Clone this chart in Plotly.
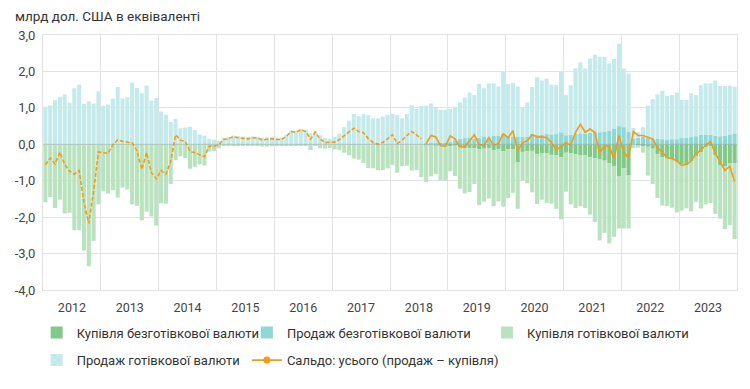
import plotly.graph_objects as go

years = [str(y) for y in range(2012, 2024)]
months = [f"{y}-{m:02d}" for y in range(2012, 2024) for m in range(1, 13)]

# Купівля безготівкової валюти, from Aug 2018
noncash_buy = [0.0] * 79 + [
    -0.02, -0.01, -0.03, -0.02, -0.03,
    -0.05, -0.03, -0.08, -0.10, -0.10, -0.10, -0.14, -0.12, -0.10, -0.16, -0.14, -0.19,
    -0.14, -0.13, -0.50, -0.21, -0.19, -0.18, -0.27, -0.24, -0.25, -0.29, -0.30, -0.36,
    -0.23, -0.25, -0.27, -0.31, -0.30, -0.36, -0.38, -0.42, -0.45, -0.52, -0.60, -0.87,
    -0.66, -0.86, 0.00, -0.02, -0.05, -0.07, -0.12, -0.28, -0.35, -0.39, -0.42, -0.48,
    -0.55, -0.57, -0.47, -0.32, -0.22, -0.08, -0.05, -0.30, -0.57, -0.60, -0.53, -0.52,
]

# Продаж безготівкової валюти
noncash_sale = [0.0] * 79 + [
    0.02, 0.03, 0.03, 0.04, 0.05,
    0.06, 0.11, 0.15, 0.17, 0.19, 0.15, 0.18, 0.22, 0.19, 0.23, 0.23, 0.29,
    0.21, 0.21, 0.20, 0.21, 0.20, 0.29, 0.27, 0.26, 0.28, 0.27, 0.28, 0.33,
    0.25, 0.26, 0.28, 0.30, 0.30, 0.32, 0.34, 0.33, 0.35, 0.38, 0.42, 0.50,
    0.47, 0.35, 0.16, 0.18, 0.20, 0.18, 0.16, 0.15, 0.14, 0.13, 0.14, 0.14,
    0.17, 0.18, 0.20, 0.22, 0.26, 0.27, 0.26, 0.23, 0.22, 0.23, 0.27, 0.30,
]

# Купівля готівкової валюти
cash_buy = [
    -1.59, -1.45, -1.75, -1.52, -1.90, -1.88, -2.36, -2.36, -2.92, -3.35, -2.65, -1.65,
    -1.29, -1.35, -1.26, -1.46, -1.19, -1.24, -1.65, -1.69, -2.09, -1.85, -1.98, -2.23,
    -1.62, -1.63, -1.09, -0.44, -0.33, -0.38, -0.67, -0.62, -0.55, -0.58, -0.20, -0.18,
    -0.11, -0.05, -0.05, -0.03, -0.04, -0.05, -0.05, -0.04, -0.04, -0.06, -0.06, -0.05,
    -0.05, -0.05, -0.04, -0.03, -0.04, -0.02, -0.05, -0.16, -0.04, -0.11, -0.12, -0.10,
    -0.14, -0.16, -0.23, -0.30, -0.39, -0.42, -0.51, -0.65, -0.66, -0.71, -0.71, -0.66,
    -0.57, -0.78, -0.60, -0.59, -0.72, -0.71, -0.90, -1.02, -0.87, -0.79, -0.97, -0.97,
    -0.69, -0.84, -1.14, -1.25, -1.21, -0.99, -1.53, -1.45, -1.39, -1.54, -1.43, -1.52,
    -1.34, -1.20, -1.27, -0.79, -0.88, -1.14, -1.37, -1.28, -1.36, -1.34, -1.47, -1.70,
    -1.07, -1.40, -1.48, -1.39, -1.45, -1.57, -1.75, -2.22, -1.98, -2.20, -1.94, -1.44,
    -1.65, -1.45, -0.10, -0.07, -0.18, -0.79, -0.97, -1.19, -1.33, -1.31, -1.32, -1.39,
    -1.27, -1.19, -1.37, -1.26, -1.54, -1.57, -1.56, -1.61, -1.47, -1.73, -1.69, -2.08,
]

# Продаж готівкової валюти
cash_sale = [
    1.03, 1.07, 1.21, 1.30, 1.37, 1.14, 1.54, 1.64, 1.11, 1.18, 1.12, 1.45,
    1.06, 1.09, 1.25, 1.57, 1.26, 1.29, 1.69, 1.55, 1.40, 1.61, 1.20, 1.27,
    0.90, 0.81, 0.61, 0.70, 0.44, 0.46, 0.48, 0.39, 0.27, 0.24, 0.15, 0.13,
    0.10, 0.18, 0.20, 0.24, 0.22, 0.21, 0.20, 0.22, 0.21, 0.18, 0.19, 0.20,
    0.18, 0.18, 0.26, 0.38, 0.37, 0.42, 0.40, 0.30, 0.37, 0.25, 0.17, 0.15,
    0.20, 0.29, 0.47, 0.65, 0.83, 0.77, 0.83, 0.80, 0.71, 0.71, 0.76, 0.81,
    0.83, 0.80, 0.71, 0.83, 1.07, 0.97, 1.05, 1.04, 1.09, 0.99, 0.91, 0.90,
    0.91, 0.91, 1.00, 1.11, 1.23, 1.20, 1.48, 1.32, 1.48, 1.44, 1.36, 1.71,
    1.45, 1.48, 1.38, 0.80, 0.95, 1.28, 1.57, 1.49, 1.52, 1.37, 1.35, 1.66,
    1.10, 1.36, 1.80, 1.95, 1.78, 2.03, 2.12, 2.07, 2.05, 1.84, 1.92, 2.26,
    1.61, 1.59, 0.29, 0.15, 0.27, 0.88, 1.08, 1.22, 1.33, 1.20, 1.21, 1.28,
    1.05, 1.04, 1.20, 1.13, 1.36, 1.40, 1.41, 1.52, 1.38, 1.37, 1.34, 1.28,
]

# Сальдо: усього (продаж – купівля); до 07.2018 лише готівкова
balance = [
    -0.56, -0.38, -0.54, -0.22, -0.55, -0.74, -0.82, -0.72, -1.60, -2.17, -1.30, -0.21,
    -0.23, -0.25, -0.01, 0.12, 0.08, 0.06, 0.04, -0.18, -0.69, -0.23, -0.78, -0.95,
    -0.72, -0.82, -0.48, 0.26, 0.11, 0.08, -0.19, -0.23, -0.28, -0.34, -0.05, -0.05,
    -0.01, 0.13, 0.15, 0.21, 0.18, 0.16, 0.15, 0.18, 0.17, 0.12, 0.13, 0.15,
    0.13, 0.13, 0.22, 0.35, 0.33, 0.40, 0.35, 0.14, 0.33, 0.14, 0.05, 0.05,
    0.06, 0.13, 0.24, 0.35, 0.44, 0.35, 0.32, 0.15, 0.05, 0.00, 0.05, 0.15,
    0.26, 0.02, 0.11, 0.24, 0.35, 0.26, 0.15, 0.02, 0.24, 0.20, -0.04, -0.05,
    0.23, 0.15, -0.07, -0.07, 0.11, 0.26, -0.01, -0.03, 0.18, -0.03, 0.02, 0.29,
    0.18, 0.37, -0.18, 0.04, 0.10, 0.27, 0.20, 0.21, 0.18, 0.05, -0.15, -0.07,
    0.05, -0.03, 0.33, 0.55, 0.33, 0.42, 0.33, -0.24, -0.03, -0.06, -0.39, 0.24,
    -0.23, -0.37, 0.35, 0.24, 0.24, 0.20, 0.15, -0.10, -0.21, -0.37, -0.39, -0.45,
    -0.58, -0.55, -0.46, -0.26, -0.17, -0.02, 0.07, -0.25, -0.50, -0.72, -0.60, -1.02,
]
cash_only_months = 79  # dashed part: Jan 2012 – Jul 2018

y_ticks = [3, 2, 1, 0, -1, -2, -3, -4]
y_tick_text = ["3,0", "2,0", "1,0", "0,0", "-1,0", "-2,0", "-3,0", "-4,0"]

C_BUY_NC = "#80c987"
C_SALE_NC = "#8fd8d5"
C_BUY_C = "#b9e2be"
C_SALE_C = "#c4eaeb"
C_LINE = "#f59b16"
FONT = "Roboto"

# The page body adds an 8px offset; the figure is laid out in figure pixels
OFF = 8
W, H = 734, 373
PL, PT, PR, PB = 43.3 - OFF, 35 - OFF, 736.7 - OFF, 293 - OFF  # plot box in figure px

x = list(range(len(months)))

fig = go.Figure()
fig.add_bar(x=x, y=noncash_buy, name="Купівля безготівкової валюти",
            marker=dict(color=C_BUY_NC, line_width=0), legend="legend", customdata=months)
fig.add_bar(x=x, y=noncash_sale, name="Продаж безготівкової валюти",
            marker=dict(color=C_SALE_NC, line_width=0), legend="legend2", customdata=months)
fig.add_bar(x=x, y=cash_buy, name="Купівля готівкової валюти",
            marker=dict(color=C_BUY_C, line_width=0), legend="legend3", customdata=months)
fig.add_bar(x=x, y=cash_sale, name="Продаж готівкової валюти",
            marker=dict(color=C_SALE_C, line_width=0), legend="legend4", customdata=months)

fig.add_scatter(x=x[:cash_only_months], y=balance[:cash_only_months], mode="lines",
                line=dict(color=C_LINE, width=1.6, dash="4px,2px"), showlegend=False)
fig.add_scatter(x=x[cash_only_months:], y=balance[cash_only_months:], mode="lines",
                line=dict(color=C_LINE, width=1.6), showlegend=False)
fig.add_scatter(x=[None], y=[None], mode="lines+markers", name="Сальдо: усього (продаж – купівля)",
                line=dict(color=C_LINE, width=1.6), marker=dict(color=C_LINE, size=7),
                legend="legend5")

grid = "#e3e3e3"
fig.update_layout(
    width=W, height=H,
    margin=dict(l=PL, r=W - PR, t=PT, b=H - PB, pad=0),
    barmode="relative", bargap=0.15,
    plot_bgcolor="white", paper_bgcolor="white",
    font=dict(family=FONT, size=13, color="#333"),
    title=dict(text="млрд дол. США в еквіваленті", x=(15 - OFF) / W, xanchor="left",
               xref="container", y=1 - (16 - OFF) / H, yanchor="middle", yref="container",
               font=dict(family=FONT, size=13.5, color="#333")),
    xaxis=dict(range=[-0.5, len(months) - 0.5], tickmode="array",
               tickvals=[5.5 + 12 * k for k in range(len(years))], ticktext=years,
               showgrid=False, zeroline=False, ticks="", ticklabelstandoff=6,
               tickfont=dict(family=FONT, size=12.5, color="#444"),
               showline=True, mirror=True, linecolor=grid, linewidth=1,
               minor=dict(tickmode="array", tickvals=[-0.5 + 12 * k for k in range(len(years) + 1)],
                          showgrid=True, gridcolor=grid, gridwidth=1, ticks="")),
    yaxis=dict(range=[-4, 3], tickmode="array", tickvals=y_ticks, ticktext=y_tick_text,
               showgrid=True, gridcolor=grid, gridwidth=1, zeroline=False,
               ticks="", ticklabelstandoff=4,
               tickfont=dict(family=FONT, size=13, color="#444"),
               showline=True, mirror=True, linecolor=grid, linewidth=1),
    shapes=[dict(type="line", xref="paper", x0=0, x1=1, yref="y", y0=0, y1=0,
                 line=dict(color="rgba(140,160,160,0.45)", width=1), layer="above")],
    showlegend=True,
)

def leg(wx, wy):
    # wx, wy: window pixel position of legend box left / item centre
    fx, fy = wx - OFF, wy - OFF
    return dict(x=(fx - PL) / (PR - PL), y=(PB - fy) / (PB - PT), xanchor="left", yanchor="middle",
                orientation="v", bgcolor="rgba(0,0,0,0)", borderwidth=0,
                font=dict(family=FONT, size=13, color="#333"), itemclick=False,
                itemdoubleclick=False)

fig.update_layout(
    legend=leg(37, 336), legend2=leg(247, 336), legend3=leg(487, 336),
    legend4=leg(37, 364), legend5=leg(247, 364),
)

fig.write_html("out.html")
